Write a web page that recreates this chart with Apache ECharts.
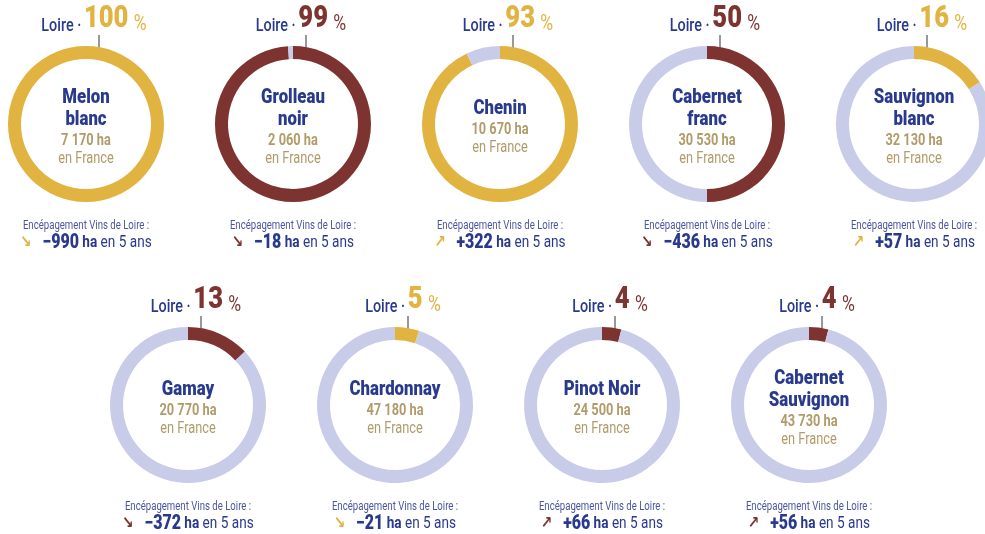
<!DOCTYPE html>
<html>
  <head>
    <meta charset="UTF-8" />
    <title>Cépages Loire</title>
    <style type="text/css">
      * {
        margin: 0;
        padding: 0;
      }
      #main {
        width: 985px;
        height: 534px;
        background-color: #fff;
      }
    </style>
  </head>
  <body>
    <div id="main"></div>
  </body>
  <script src="https://cdn.jsdelivr.net/npm/echarts@6/dist/echarts.min.js"></script>
  <script type="text/javascript">
    // données
    var cepages = ['Melon\nblanc', 'Grolleau\nnoir', 'Chenin', 'Cabernet\nfranc', 'Sauvignon\nblanc',
      'Gamay', 'Chardonnay', 'Pinot Noir', 'Cabernet\nSauvignon']
    var partLoire = [100, 99, 93, 50, 16, 13, 5, 4, 4]
    var surfaceFrance = ['7 170', '2 060', '10 670', '30 530', '32 130', '20 770', '47 180', '24 500', '43 730']
    var evolution5ans = [-990, -18, 322, -436, 57, -372, -21, 66, 56]
    var typeCepage = ['blanc', 'rouge', 'blanc', 'rouge', 'blanc', 'rouge', 'blanc', 'rouge', 'rouge']

    var colors = { blanc: '#E1B441', rouge: '#7D3430' }
    var reste = '#C9CCE8'
    var navy = '#293A8E'
    var tan = '#B19B6A'
    var font = 'Roboto, sans-serif'
    var sx = 0.8 // police étroite simulée

    // positions des anneaux
    function centre(i) {
      if (i < 5) return [86 + i * 207, 124]
      return [188 + (i - 5) * 207, 405]
    }

    function texte(x, y, text, style) {
      return {
        type: 'text',
        x: x,
        y: y,
        scaleX: sx,
        silent: true,
        style: Object.assign({ text: text, align: 'center', verticalAlign: 'middle' }, style)
      }
    }

    var series = []
    var graphic = []
    cepages.forEach(function (nom, i) {
      var c = centre(i)
      var col = colors[typeCepage[i]]
      series.push({
        type: 'pie',
        radius: [65, 78],
        center: c,
        startAngle: 90,
        clockwise: true,
        silent: true,
        label: { show: false },
        labelLine: { show: false },
        emphasis: { disabled: true },
        data: [
          { value: partLoire[i], itemStyle: { color: col } },
          { value: 100 - partLoire[i], itemStyle: { color: reste } }
        ]
      })

      // texte central
      var lignes = nom.split('\n').map(function (l) { return '{nom|' + l + '}' }).join('\n')
      graphic.push(texte(c[0], c[1] + 3, lignes + '\n{ha|' + surfaceFrance[i] + ' ha}\n{fr|en France}', {
        rich: {
          nom: { fontFamily: font, fontSize: 21, fontWeight: 900, fill: navy, lineHeight: 22, align: 'center' },
          ha: { fontFamily: font, fontSize: 16, fontWeight: 'bold', fill: tan, lineHeight: 19, align: 'center' },
          fr: { fontFamily: font, fontSize: 16, fill: tan, lineHeight: 17, align: 'center' }
        }
      }))

      // Loire · xx %
      graphic.push(texte(c[0] + 8, c[1] - 103, '{l|Loire ·} {n|' + partLoire[i] + '}  {p|%}', {
        rich: {
          l: { fontFamily: font, fontSize: 18, fontWeight: 500, fill: navy, lineHeight: 28, verticalAlign: 'bottom' },
          n: { fontFamily: font, fontSize: 32, fontWeight: 900, fill: col, lineHeight: 28, verticalAlign: 'bottom' },
          p: { fontFamily: font, fontSize: 22, fill: col, lineHeight: 28, verticalAlign: 'bottom' }
        }
      }))
      graphic.push({
        type: 'line',
        silent: true,
        shape: { x1: c[0] + 13, y1: c[1] - 89, x2: c[0] + 13, y2: c[1] - 71 },
        style: { stroke: '#333', lineWidth: 1 }
      })

      // évolution
      var ev = evolution5ans[i]
      graphic.push(texte(c[0], c[1] + 102, 'Encépagement Vins de Loire :', {
        fontFamily: font, fontSize: 12, fill: '#4A56A0'
      }))
      graphic.push(texte(c[0], c[1] + 119,
        '{a|' + (ev < 0 ? '↘' : '↗') + '}    {v|' + (ev < 0 ? '−' : '+') + Math.abs(ev) + '}{h| ha}{t| en 5 ans}', {
          rich: {
            a: { fontFamily: 'DejaVu Sans', fontSize: 17, fontWeight: 'bold', fill: col },
            v: { fontFamily: font, fontSize: 20, fontWeight: 900, fill: navy },
            h: { fontFamily: font, fontSize: 17, fontWeight: 'bold', fill: navy },
            t: { fontFamily: font, fontSize: 17, fill: navy }
          }
        }))
    })

    var myCharts = echarts.init(document.getElementById('main'))
    myCharts.setOption({
      animation: false,
      series: series,
      graphic: graphic
    })
  </script>
</html>
